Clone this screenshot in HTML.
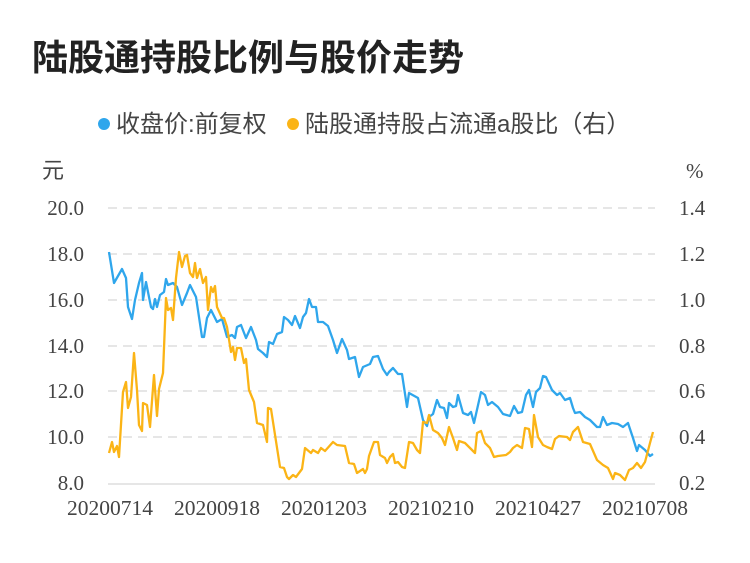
<!DOCTYPE html>
<html><head><meta charset="utf-8"><style>
body{margin:0;background:#fff;}
svg text{font-family:"Liberation Serif","Noto Sans CJK SC",serif;}
</style></head><body>
<svg width="750" height="558" xmlns="http://www.w3.org/2000/svg">
<text x="32" y="70" font-size="36" font-weight="bold" fill="#222" style="font-family:'Liberation Sans','Noto Sans CJK SC',sans-serif">陆股通持股比例与股价走势</text>
<circle cx="104" cy="124" r="6" fill="#2fa6ec"/>
<text x="116" y="132" font-size="24" fill="#444" style="font-family:'Liberation Sans','Noto Sans CJK SC',sans-serif">收盘价:前复权</text>
<circle cx="293" cy="124" r="6" fill="#fbb416"/>
<text x="305" y="132" font-size="24" fill="#444" style="font-family:'Liberation Sans','Noto Sans CJK SC',sans-serif">陆股通持股占流通a股比（右）</text>
<text x="42" y="178" font-size="22" fill="#444" style="font-family:'Liberation Sans','Noto Sans CJK SC',sans-serif">元</text>
<text x="686" y="178" font-size="21" fill="#444">%</text>
<g stroke="#e6e6e6" stroke-width="2" stroke-dasharray="9,6">
<line x1="108" y1="208" x2="655" y2="208"/><line x1="108" y1="254" x2="655" y2="254"/>
<line x1="108" y1="300" x2="655" y2="300"/><line x1="108" y1="346" x2="655" y2="346"/>
<line x1="108" y1="391" x2="655" y2="391"/><line x1="108" y1="437" x2="655" y2="437"/>
</g>
<line x1="108" y1="484" x2="655" y2="484" stroke="#e6e6e6" stroke-width="2"/>
<g font-size="21" fill="#444" text-anchor="end">
<text x="84" y="215">20.0</text><text x="84" y="261">18.0</text><text x="84" y="307">16.0</text>
<text x="84" y="353">14.0</text><text x="84" y="398">12.0</text><text x="84" y="444">10.0</text><text x="84" y="490">8.0</text>
</g>
<g font-size="21" fill="#444">
<text x="679" y="215">1.4</text><text x="679" y="261">1.2</text><text x="679" y="307">1.0</text>
<text x="679" y="353">0.8</text><text x="679" y="398">0.6</text><text x="679" y="444">0.4</text><text x="679" y="490">0.2</text>
</g>
<g font-size="21.5" fill="#444" text-anchor="middle">
<text x="110" y="515">20200714</text><text x="217" y="515">20200918</text><text x="324" y="515">20201203</text>
<text x="431" y="515">20210210</text><text x="538" y="515">20210427</text><text x="645" y="515">20210708</text>
</g>
<polyline fill="none" stroke="#2fa6ec" stroke-width="2.3" stroke-linejoin="round" points="109,252 114,283 122,269 126,278 128,307 132,319 135,300 139,283 142,273 143,300 146,282 151,307 153,309 155,299 157,307 160,295 164,292 166,279 168,285 173,283 177,287 182,305 187,293 190,285 196,297 202,337 204,337 207,318 211,310 217,322 222,319 227,337 232,335 235,338 237,327 241,325 246,338 251,327 256,340 258,349 263,353 267,357 269,342 273,344 277,334 282,332 284,317 288,320 292,325 295,316 300,328 303,317 306,313 309,299 312,307 316,307 318,322 323,322 328,326 333,340 337,353 342,339 347,350 349,359 355,357 359,377 363,367 370,364 373,357 378,356 383,369 387,375 389,372 393,368 398,374 402,374 407,407 409,393 418,398 423,420 427,426 429,417 433,414 437,400 440,407 444,408 447,418 449,403 453,407 456,406 458,395 463,413 468,415 471,412 474,423 481,392 485,395 488,405 492,402 498,407 503,414 510,416 514,406 518,413 522,412 526,395 529,390 533,407 536,392 540,388 543,376 546,377 552,390 557,395 560,393 565,400 570,398 573,408 575,413 580,412 585,417 590,420 597,427 600,427 603,417 607,425 612,423 618,424 623,427 628,423 633,438 637,451 639,445 645,450 650,456 653,454"/>
<polyline fill="none" stroke="#fbb416" stroke-width="2.3" stroke-linejoin="round" points="109,453 112,442 114,452 117,446 119,457 123,392 126,382 128,408 131,397 134,353 137,390 139,425 142,431 143,403 147,405 150,427 154,375 157,416 159,389 163,373 166,298 168,310 171,308 173,320 176,278 179,252 182,267 185,256 187,255 190,273 193,277 195,263 197,278 200,269 203,283 206,277 208,310 211,287 213,292 215,286 217,307 222,318 224,318 227,327 231,352 233,347 235,360 237,348 241,348 244,363 246,359 249,390 254,402 257,423 263,425 267,442 268,408 271,409 280,467 284,468 287,477 289,479 293,475 296,477 302,469 305,448 311,453 313,450 318,453 321,448 325,451 333,442 337,445 345,446 349,463 354,464 357,473 363,469 365,473 367,469 369,456 374,442 378,442 380,455 385,458 387,463 390,457 393,454 395,463 398,462 402,467 405,468 409,442 413,443 417,450 420,453 423,422 427,423 429,415 433,430 438,433 442,438 445,445 449,427 453,438 457,450 459,441 465,443 470,448 475,453 477,433 481,431 485,443 490,448 494,457 498,456 506,455 510,452 513,448 517,445 522,448 525,428 529,429 532,447 534,415 538,437 543,445 547,447 552,449 555,439 559,436 567,437 570,440 573,432 578,427 583,442 590,444 597,460 603,465 608,468 613,479 615,473 620,475 625,480 629,470 633,468 637,463 641,468 645,462 650,443 653,432"/>
</svg>
</body></html>
